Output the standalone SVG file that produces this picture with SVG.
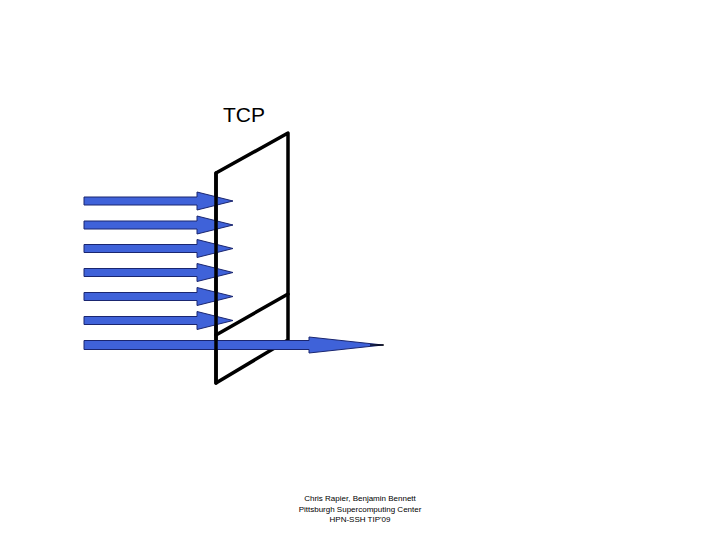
<svg xmlns="http://www.w3.org/2000/svg" width="720" height="540" viewBox="0 0 720 540">
<style>
.arrow{fill:#3f62d9;stroke:#1a2670;stroke-width:1}
.plane{fill:none;stroke:#000;stroke-width:3.5;stroke-linejoin:round;stroke-linecap:round}
.t{font-family:"Liberation Sans",Arial,sans-serif;fill:#000}
</style>
<rect width="720" height="540" fill="#fff"/>
<g id="label-tcp"><text class="t" x="223" y="122" font-size="21">TCP</text></g>
<g id="plane">
<polygon class="plane" points="216,173 288,133 288,340 216,383"/>
<line class="plane" x1="216" y1="335" x2="288" y2="294"/>
</g>
<g id="connectors">
<path class="arrow" d="M84,197 H197 V192 L233,201 L197,210 V205 H84 Z"/>
<path class="arrow" d="M84,221 H197 V216 L233,225 L197,234 V229 H84 Z"/>
<path class="arrow" d="M84,244.5 H197 V239.5 L233,248.5 L197,257.5 V252.5 H84 Z"/>
<path class="arrow" d="M84,268.5 H197 V263.5 L233,272.5 L197,281.5 V276.5 H84 Z"/>
<path class="arrow" d="M84,292.5 H197 V287.5 L233,296.5 L197,305.5 V300.5 H84 Z"/>
<path class="arrow" d="M84,316.5 H197 V311.5 L233,320.5 L197,329.5 V324.5 H84 Z"/>
<path class="arrow" d="M84,340.5 H309 V337 L383,345 L309,353 V349.5 H84 Z"/>
<line x1="370" y1="345" x2="384" y2="345" stroke="#000" stroke-width="1.2"/>
</g>
<g id="plane-front"><line class="plane" x1="216" y1="173" x2="216" y2="383"/></g>
<g id="footer" class="t" font-size="8" text-anchor="middle">
<text x="360" y="501">Chris Rapier, Benjamin Bennett</text>
<text x="360" y="511.5">Pittsburgh Supercomputing Center</text>
<text x="360" y="522">HPN-SSH TIP'09</text>
</g>
</svg>
